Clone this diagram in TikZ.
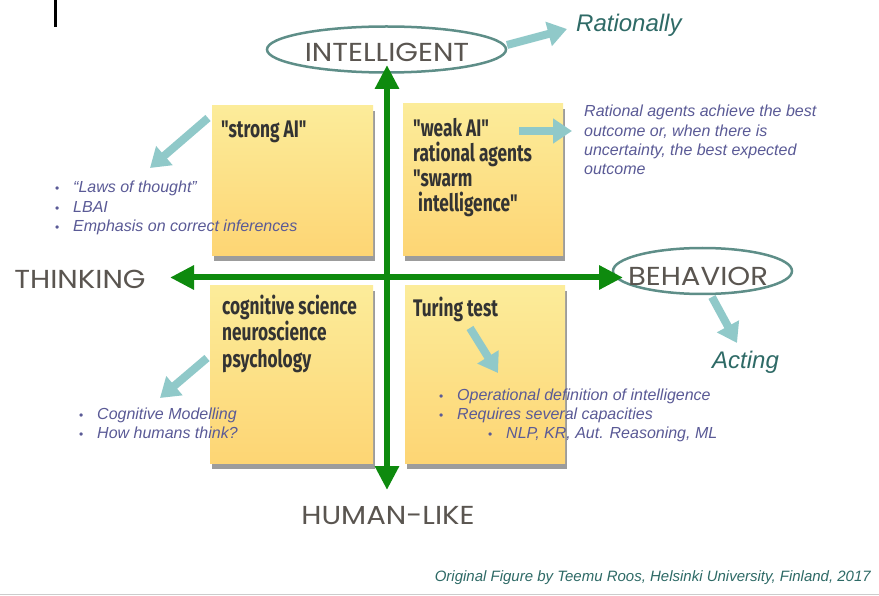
\documentclass[tikz,border=0pt]{standalone}
\usepackage{fontspec}
\setmainfont{Liberation Sans}
\newfontfamily\handfont[FakeStretch=1.12]{Poppins}
\newfontfamily\notefont[FakeStretch=0.72]{Fira Sans}
\usetikzlibrary{arrows.meta,shapes.geometric,shadows}
\definecolor{axisgreen}{HTML}{0E8A0E}
\definecolor{tealarrow}{HTML}{90C9C9}
\definecolor{ellline}{HTML}{5E8E88}
\definecolor{handgray}{HTML}{5A5550}
\definecolor{purpletext}{HTML}{5A5A96}
\definecolor{darkteal}{HTML}{2E6A66}
\definecolor{notetop}{HTML}{FCEC9A}
\definecolor{notebot}{HTML}{FDD574}
\definecolor{notetext}{HTML}{333333}
\tikzset{
  note/.style={anchor=north west, inner sep=0pt, top color=notetop, bottom color=notebot,
    drop shadow={shadow xshift=2pt, shadow yshift=-6pt, fill=black!55, opacity=0.7}},
  notetxt/.style={anchor=base west, inner sep=0pt, text=notetext, font=\notefont\bfseries\fontsize{24}{25}\selectfont},
  handlbl/.style={inner sep=0pt, text=handgray, font=\handfont\fontsize{26}{28}\selectfont},
  ell/.style={ellipse, draw=ellline, line width=2.5pt, inner sep=0pt},
  gaxis/.style={draw=axisgreen, line width=6pt, {Triangle[length=24pt,width=23pt]}-{Triangle[length=24pt,width=23pt]}},
  tarrow/.style={draw=tealarrow, line width=8pt, -{Triangle[length=19pt,width=24pt]}},
  ptxt/.style={anchor=base west, inner sep=0pt, text=purpletext, font=\itshape\fontsize{16}{18}\selectfont},
  bul/.style={anchor=base west, inner sep=0pt, text=purpletext, font=\fontsize{12}{14}\selectfont},
  tealtxt/.style={anchor=base west, inner sep=0pt, text=darkteal, font=\itshape\fontsize{24}{28}\selectfont}
}
\begin{document}
\begin{tikzpicture}[x=1pt, y={(0pt,-1pt)}]
\useasboundingbox (0,0) rectangle (879,596);
\fill[white] (0,0) rectangle (879,596);
% black bar and bottom rule
\fill[black] (54,0) rectangle (57,27);
\draw[black!20, line width=1.5pt] (0,594.5) -- (879,594.5);

% sticky notes
\node[note, minimum width=161pt, minimum height=150pt] (ntl) at (212,105) {};
\node[note, minimum width=160pt, minimum height=152pt] (ntr) at (403,103) {};
\node[note, minimum width=163pt, minimum height=178pt] (nbl) at (210,285) {};
\node[note, minimum width=160pt, minimum height=178pt] (nbr) at (405,285) {};

% note texts
\node[notetxt] (t1) at (221,138) {"strong AI"};
\node[notetxt] (t2) at (413,137) {"weak AI"};
\node[notetxt] (t3) at (413,162) {rational agents};
\node[notetxt] (t4) at (413,187) {"swarm};
\node[notetxt] (t5) at (418,212) {intelligence"};
\node[notetxt] (t6) at (222,315) {cognitive science};
\node[notetxt] (t7) at (222,341) {neuroscience};
\node[notetxt] (t8) at (222,367) {psychology};
\node[notetxt] (t9) at (413,317) {Turing test};

% ellipses and axis labels
\node[ell, minimum width=239pt, minimum height=46pt] (eint) at (386.5,49.5) {};
\node[ell, minimum width=179pt, minimum height=46pt] (ebeh) at (702.5,271) {};
\node[handlbl] (lint) at (387,52) {INTELLIGENT};
\node[handlbl] (lbeh) at (698,276) {BEHAVIOR};
\node[handlbl] (lthi) at (80,279) {THINKING};
\node[handlbl] (lhum) at (388,516) {HUMAN-LIKE};

% green axes
\coordinate (vtop) at (387,65);
\coordinate (vbot) at (387,490);
\coordinate (hleft) at (170,277.5);
\coordinate (hright) at (623,277.5);
\draw[gaxis] (vbot) -- (vtop);
\draw[gaxis] (hleft) -- (hright);

% teal arrows
\coordinate (a1s) at (507,45);  \coordinate (a1e) at (567,29);
\coordinate (a2s) at (208,118); \coordinate (a2e) at (150,168);
\coordinate (a3s) at (519,131); \coordinate (a3e) at (572,131);
\coordinate (a4s) at (712,297); \coordinate (a4e) at (737,343);
\coordinate (a5s) at (470,328); \coordinate (a5e) at (498,373);
\coordinate (a6s) at (207,358); \coordinate (a6e) at (160,398);
\draw[tarrow] (a1s) -- (a1e);
\draw[tarrow] (a2s) -- (a2e);
\draw[tarrow] (a3s) -- (a3e);
\draw[tarrow] (a4s) -- (a4e);
\draw[tarrow] (a5s) -- (a5e);
\draw[tarrow] (a6s) -- (a6e);

% teal labels
\node[tealtxt] (rat) at (576,32) {Rationally};
\node[tealtxt] (act) at (712,368) {Acting};

% upper right paragraph
\node[ptxt] (p1) at (584,117) {Rational agents achieve the best};
\node[ptxt] (p2) at (584,137) {outcome or, when there is};
\node[ptxt] (p3) at (584,156) {uncertainty, the best expected};
\node[ptxt] (p4) at (584,175) {outcome};

% left list
\node[bul] (b1) at (55,193) {•};
\node[ptxt] (l1) at (73,193) {“Laws of thought”};
\node[bul] (b2) at (55,213) {•};
\node[ptxt] (l2) at (73,213) {LBAI};
\node[bul] (b3) at (55,232) {•};
\node[ptxt] (l3) at (73,232) {Emphasis on correct inferences};

% bottom left list
\node[bul] (b4) at (79,419) {•};
\node[ptxt] (l4) at (97,419) {Cognitive Modelling};
\node[bul] (b5) at (79,438) {•};
\node[ptxt] (l5) at (97,438) {How humans think?};

% bottom right list
\node[bul] (b6) at (439,400) {•};
\node[ptxt] (l6) at (457,400) {Operational definition of intelligence};
\node[bul] (b7) at (439,419) {•};
\node[ptxt] (l7) at (457,419) {Requires several capacities};
\node[bul] (b8) at (488,438) {•};
\node[ptxt] (l8) at (506,438) {NLP, KR, Aut. Reasoning, ML};

% footer
\node[anchor=base east, inner sep=0pt, text=darkteal, font=\itshape\fontsize{15}{17}\selectfont] (foot) at (871,581) {Original Figure by Teemu Roos, Helsinki University, Finland, 2017};
\end{tikzpicture}
\end{document}
